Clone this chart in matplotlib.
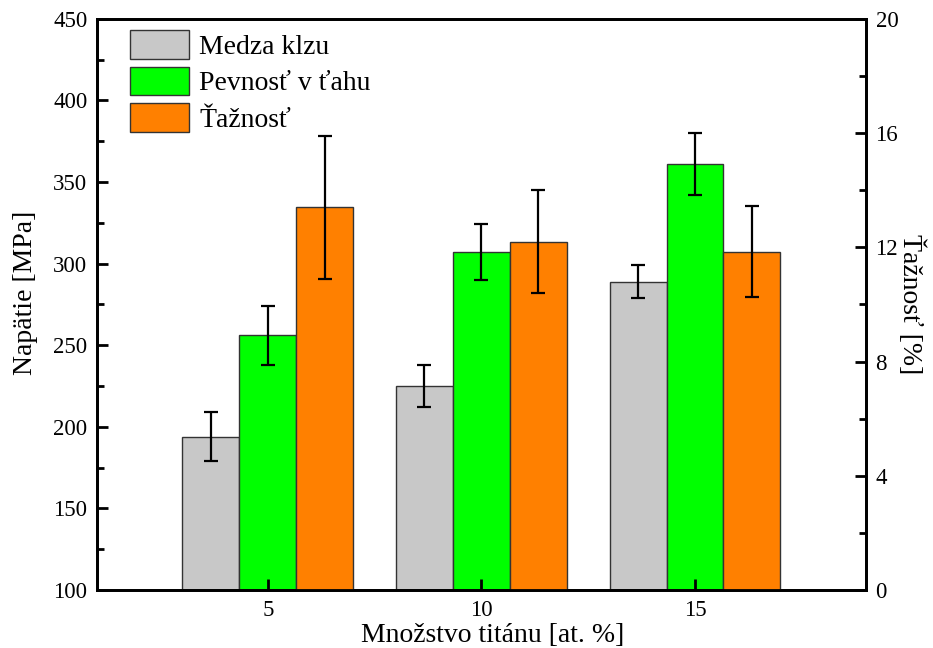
import matplotlib.pyplot as plt
from matplotlib.ticker import MultipleLocator

plt.rcParams['font.family'] = ['Liberation Serif', 'DejaVu Serif']

# data
titanium = [5, 10, 15]
yield_strength = [194, 225, 289]        # MPa
yield_err = [15, 13, 10]
tensile_strength = [256, 307, 361]      # MPa
tensile_err = [18, 17, 19]
elongation = [13.4, 12.2, 11.85]        # %
elongation_err = [2.5, 1.8, 1.6]

labels = ["Medza klzu", "Pevnosť v ťahu", "Ťažnosť"]
colors = ["#C8C8C8", "#00FF00", "#FF8000"]

w = 4 / 3
fig = plt.figure(figsize=(9.33, 6.48), dpi=100)
ax = fig.add_axes([0.104, 0.0895, 0.824, 0.8815])
ax2 = ax.twinx()

ebar = dict(ecolor='black', elinewidth=1.6, capsize=5, capthick=1.6)
x = titanium
b1 = ax.bar([v - w for v in x], [v - 100 for v in yield_strength], w, bottom=100,
            yerr=yield_err, color=colors[0], edgecolor='#333333', linewidth=1,
            error_kw=ebar, label=labels[0])
b2 = ax.bar(x, [v - 100 for v in tensile_strength], w, bottom=100,
            yerr=tensile_err, color=colors[1], edgecolor='#333333', linewidth=1,
            error_kw=ebar, label=labels[1])
b3 = ax2.bar([v + w for v in x], elongation, w, yerr=elongation_err,
             color=colors[2], edgecolor='#333333', linewidth=1,
             error_kw=ebar, label=labels[2])

ax.set_xlim(1, 19)
ax.set_ylim(100, 450)
ax2.set_ylim(0, 20)
ax.set_xticks(titanium)
ax.yaxis.set_major_locator(MultipleLocator(50))
ax.yaxis.set_minor_locator(MultipleLocator(25))
ax2.yaxis.set_major_locator(MultipleLocator(4))
ax2.yaxis.set_minor_locator(MultipleLocator(2))

for a in (ax, ax2):
    for s in a.spines.values():
        s.set_linewidth(2)
    a.tick_params(which='major', direction='in', length=8, width=2,
                  labelsize=16.5, pad=7)
    a.tick_params(which='minor', direction='in', length=5, width=2)
ax.tick_params(axis='y', right=False)
ax2.tick_params(axis='y', left=False)
ax.tick_params(axis='x', top=False)

ax.set_xlabel("Množstvo titánu [at. %]", fontsize=20)
ax.xaxis.set_label_coords(0.515, -0.058)
ax.set_ylabel("Napätie [MPa]", fontsize=20)
ax.yaxis.set_label_coords(-0.077, 0.52)
ax2.set_ylabel("Ťažnosť [%]", fontsize=20, rotation=270, labelpad=19)

leg = ax.legend([b1, b2, b3], labels, loc='upper left', frameon=False,
                fontsize=20, handlelength=2.15, handleheight=1.2,
                labelspacing=0.25, handletextpad=0.35, borderaxespad=0.3,
                bbox_to_anchor=(0.017, 1.014))

fig.savefig("out.png", dpi=100)
